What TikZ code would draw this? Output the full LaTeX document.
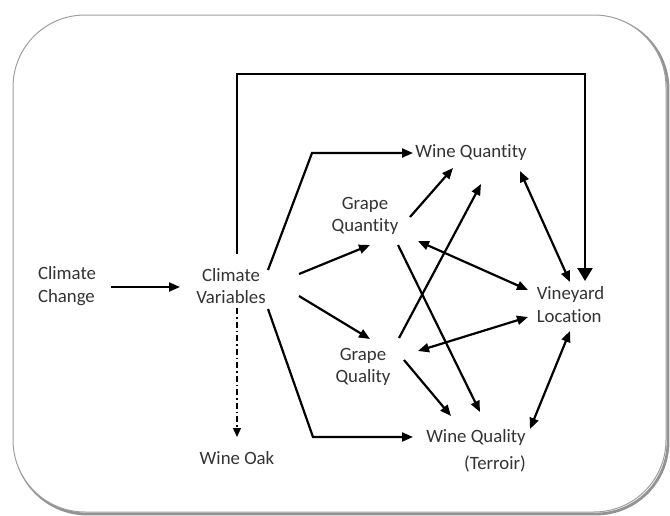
\documentclass[tikz,border=0pt]{standalone}
\usepackage{fontspec}
\setmainfont[Ligatures=NoCommon]{Carlito}
\usetikzlibrary{arrows.meta,calc}

\begin{document}
\begin{tikzpicture}[x=1pt,y=-1pt,
  lbl/.style={inner sep=0pt,align=center,font=\fontsize{18.8}{22.5}\selectfont,text=black!80},
  arr/.style={line width=2.2pt,-{Triangle[length=11pt,width=9pt]}},
  biarr/.style={line width=2.2pt,{Triangle[length=11pt,width=9pt]}-{Triangle[length=11pt,width=9pt]}},
  bigarr/.style={line width=2.4pt,-{Triangle[length=13pt,width=15pt]}},
  dotarr/.style={line width=1.4pt,dash pattern=on 6pt off 3pt on 1.5pt off 3pt,-{Triangle[length=9pt,width=8pt]}},
  frame/.style={draw=gray!75,line width=1pt,rounded corners=72pt,fill=white},
  shadowframe/.style={draw=gray!85,line width=2.8pt,rounded corners=72pt}
]
\useasboundingbox (0,0) rectangle (670,515);

% frame with a soft drop shadow on the right and bottom
\draw[shadowframe] (15,17) rectangle (668,514);
\draw[frame] (13,15) rectangle (666,512);

% labels
\node[lbl,align=left] (cc) at (67,286) {Climate\\Change};
\node[lbl] (cv) at (231,286) {Climate\\Variables};
\node[lbl] (gqn) at (365,216) {Grape\\Quantity};
\node[lbl] (gql) at (363,367) {Grape\\Quality};
\node[lbl] (wqn) at (471,153) {Wine Quantity};
\node[lbl] (wql) at (476,437) {Wine Quality};
\node[lbl] (ter) at (495,464) {(Terroir)};
\node[lbl,align=left] (vl) at (570.5,304.5) {Vineyard\\Location};
\node[lbl] (oak) at (237,458) {Wine Oak};

% climate change drives the climate variables
\draw[arr] ([shift={(44,1)}]cc.center) -- ([shift={(-51,1)}]cv.center);

% long loop over the top to the vineyard location
\draw[bigarr] ([shift={(6,-32)}]cv.center) |- (585,74) -- ([shift={(14.5,-23.5)}]vl.center);

% climate variables to wine quantity and wine quality
\draw[arr] ([shift={(37,-16)}]cv.center) -- (312,153) -- ([shift={(-58,0)}]wqn.center);
\draw[arr] ([shift={(37,23)}]cv.center) -- (313,437) -- ([shift={(-63,0)}]wql.center);

% climate variables to the grape nodes
\draw[arr] ([shift={(68,-12)}]cv.center) -- ([shift={(5,29)}]gqn.center);
\draw[arr] ([shift={(68,10)}]cv.center) -- ([shift={(7,-28)}]gql.center);

% weaker link to wine oak
\draw[dotarr] ([shift={(6,22)}]cv.center) -- ([shift={(0,-21)}]oak.center);

% grape to wine
\draw[arr] ([shift={(45,1)}]gqn.center) -- ([shift={(-18,15)}]wqn.center);
\draw[arr] ([shift={(36,-29)}]gql.center) -- ([shift={(10,31)}]wqn.center);
\draw[arr] ([shift={(33,29)}]gqn.center) -- ([shift={(4,-25)}]wql.center);
\draw[arr] ([shift={(41,-7)}]gql.center) -- ([shift={(-25,-21)}]wql.center);

% two-way links with the vineyard location
\draw[biarr] ([shift={(49,18)}]wqn.center) -- ([shift={(-0.5,-22.5)}]vl.center);
\draw[biarr] ([shift={(53,25)}]gqn.center) -- ([shift={(-42.5,-14.5)}]vl.center);
\draw[biarr] ([shift={(55,-16)}]gql.center) -- ([shift={(-42.5,12.5)}]vl.center);
\draw[biarr] ([shift={(54,-8)}]wql.center) -- ([shift={(-0.5,26.5)}]vl.center);
\end{tikzpicture}
\end{document}
